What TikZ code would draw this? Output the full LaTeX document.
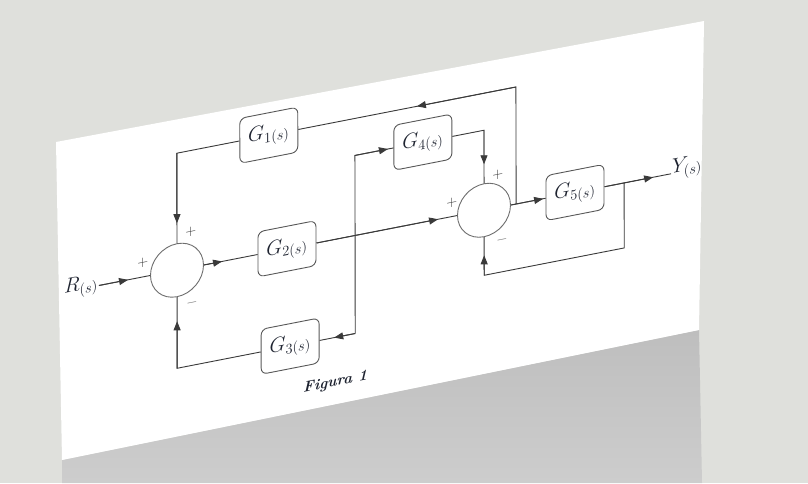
\documentclass[tikz,border=0pt]{standalone}
\usetikzlibrary{arrows.meta,calc}
\definecolor{bg}{HTML}{DFE0DC}
\definecolor{shdtop}{HTML}{BEBEBE}
\definecolor{shdbot}{HTML}{CDCDCD}
\definecolor{ln}{HTML}{3A3A3A}
\definecolor{cir}{HTML}{6E6E6E}
\definecolor{txt}{HTML}{1E2330}
\begin{document}
\begin{tikzpicture}[x=1pt,y=-1pt,
  blk/.style={draw=ln!85, line width=0.9pt, rounded corners=6pt, minimum width=58pt, minimum height=45pt, inner sep=0pt, text=txt, font=\fontsize{22}{26}\selectfont, transform shape},
  sumj/.style={circle, draw=cir, line width=0.9pt, minimum size=53pt, inner sep=0pt, transform shape},
  wire/.style={draw=ln, line width=0.9pt},
  arr/.style={wire, -{Triangle[length=9pt,width=7pt]}},
  sgn/.style={font=\fontsize{15}{17}\selectfont, text=ln, inner sep=0pt, transform shape},
  lbl/.style={font=\fontsize{22}{26}\selectfont, text=txt, inner sep=1pt, transform shape}]
\useasboundingbox (0,0) rectangle (808,483);
\fill[bg] (0,0) rectangle (808,483);
\shade[top color=shdtop, bottom color=shdbot] (62,460) -- (699,330) -- (702,483) -- (62,483) -- cycle;
\fill[white] (56,142) -- (704,21) -- (699,330) -- (62,460) -- cycle;
\begin{scope}[cm={1,0.1953,-0.0016,1,(58.75,144.25)}]
  \node[sumj] (s1) at (118,149) {};
  \node[sumj] (s2) at (425,149) {};
  \node[blk] (g1) at (210,32) {$G_{1(s)}$};
  \node[blk] (g2) at (228,149) {$G_{2(s)}$};
  \node[blk] (g3) at (231,247) {$G_{3(s)}$};
  \node[blk] (g4) at (364,69) {$G_{4(s)}$};
  \node[blk] (g5) at (516,149) {$G_{5(s)}$};
  \node[lbl] (r) at (22,147) {$R_{(s)}$};
  \node[lbl] (y) at (628,146) {$Y_{(s)}$};
  % corners and branch points
  \coordinate (c1) at (457,32);
  \coordinate (b1) at (457,149);
  \coordinate (c2) at (425,69);
  \coordinate (v1) at (296,69);
  \coordinate (v2) at (296,247);
  \coordinate (c3) at (118,32);
  \coordinate (c4) at (118,247);
  \coordinate (b2) at (565,149);
  \coordinate (c5) at (565,214);
  \coordinate (c6) at (425,214);
  % arrow tip positions
  \coordinate (t1) at (69,149);
  \coordinate (t2) at (163,149);
  \coordinate (t3) at (379,149);
  \coordinate (t4) at (484,149);
  \coordinate (t5) at (594,149);
  \coordinate (t6) at (425,194);
  \coordinate (t7) at (358,32);
  \coordinate (t8) at (118,102);
  \coordinate (t9) at (275,247);
  \coordinate (t10) at (118,200);
  \coordinate (t11) at (329,69);
  \coordinate (t12) at (425,103);
  % main path
  \draw[wire] (r.east |- s1) -- (s1.west);
  \draw[arr] (r.east |- s1) -- (t1);
  \draw[wire] (s1.east) -- (g2.west);
  \draw[arr] (s1.east) -- (t2);
  \draw[wire] (g2.east) -- (s2.west);
  \draw[arr] (g2.east) -- (t3);
  \draw[wire] (s2.east) -- (g5.west);
  \draw[arr] (s2.east) -- (t4);
  \draw[wire] (g5.east) -- (y.west |- g5);
  \draw[arr] (g5.east) -- (t5);
  % output feedback
  \draw[wire] (b2) -- (c5) -- (c6) -- (s2.south);
  \draw[arr] (c6) -- (t6);
  % G1 loop
  \draw[wire] (b1) -- (c1) -- (g1.east);
  \draw[arr] (c1) -- (t7);
  \draw[wire] (g1.west) -- (c3) -- (s1.north);
  \draw[arr] (c3) -- (t8);
  % G3 loop
  \draw[wire] (v2) -- (g3.east);
  \draw[arr] (v2) -- (t9);
  \draw[wire] (g3.west) -- (c4) -- (s1.south);
  \draw[arr] (c4) -- (t10);
  % G4 path
  \draw[wire] (v2) -- (v1) -- (g4.west);
  \draw[arr] (v1) -- (t11);
  \draw[wire] (g4.east) -- (c2) -- (s2.north);
  \draw[arr] (c2) -- (t12);
  % signs
  \node[sgn] (p1) at (132,113) {$+$};
  \node[sgn] (p2) at (84,135) {$+$};
  \node[sgn, text=ln!70] (m1) at (133,185) {$-$};
  \node[sgn] (p3) at (439,116) {$+$};
  \node[sgn] (p4) at (393,135) {$+$};
  \node[sgn, text=ln!70] (m2) at (443,182) {$-$};
  \node[font=\fontsize{15}{17}\selectfont\bfseries\itshape, text=txt, transform shape] (fig) at (276,292) {Figura 1};
\end{scope}
\end{tikzpicture}
\end{document}
